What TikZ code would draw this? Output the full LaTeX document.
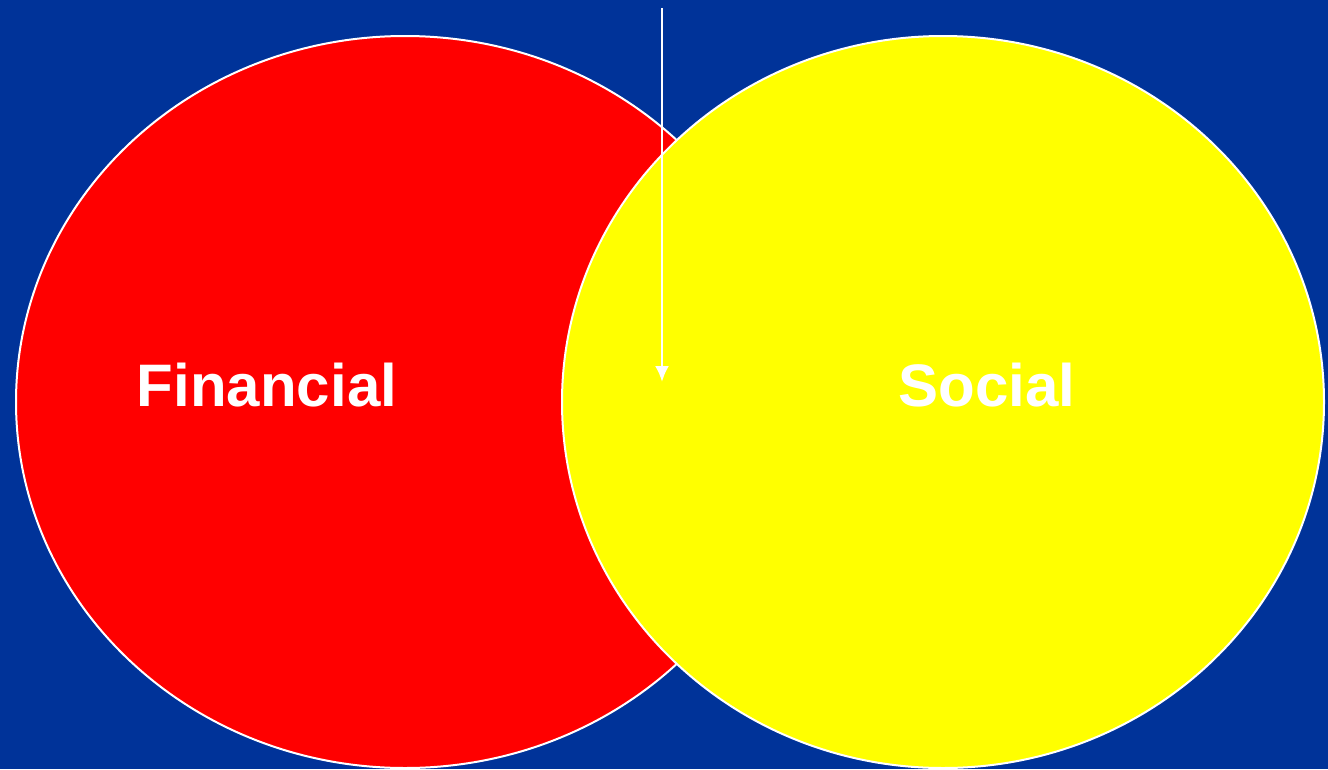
\documentclass[tikz,border=0pt]{standalone}
\usepackage{fontspec}
\setmainfont{Liberation Sans}
\usetikzlibrary{arrows.meta}
\definecolor{slideblue}{RGB}{0,51,153}
\definecolor{myred}{RGB}{255,0,0}
\definecolor{myyellow}{RGB}{255,255,0}
\tikzset{>={Latex[length=16pt,width=14pt]}}
\tikzset{
  circlabel/.style={text=white,font=\fontsize{60}{72}\selectfont\bfseries,inner sep=0pt},
  rim/.style={draw=white,line width=2pt}
}

\begin{document}
\begin{tikzpicture}[x=1pt,y=-1pt]

  % define to change easily
  \def\W{1328}
  \def\H{769}
  \def\ry{366}

  % background
  \fill[slideblue] (0,0) rectangle (\W,\H);
  \useasboundingbox (0,0) rectangle (\W,\H);

  % circles
  \coordinate (fin) at (405,402);
  \coordinate (soc) at (943,402);
  \draw[rim,fill=myred] (fin) ellipse [x radius=389, y radius=\ry];
  \draw[rim,fill=myyellow] (soc) ellipse [x radius=381, y radius=\ry];

  % labels
  \node[circlabel] (financial) at (267,385) {Financial};
  \node[circlabel] (social) at (987,385) {Social};

  % arrow
  \coordinate (top) at (662,8);
  \coordinate (overlap) at (662,382);
  \draw[->,white,line width=2.5pt] (top) -- (overlap);

\end{tikzpicture}
\end{document}
